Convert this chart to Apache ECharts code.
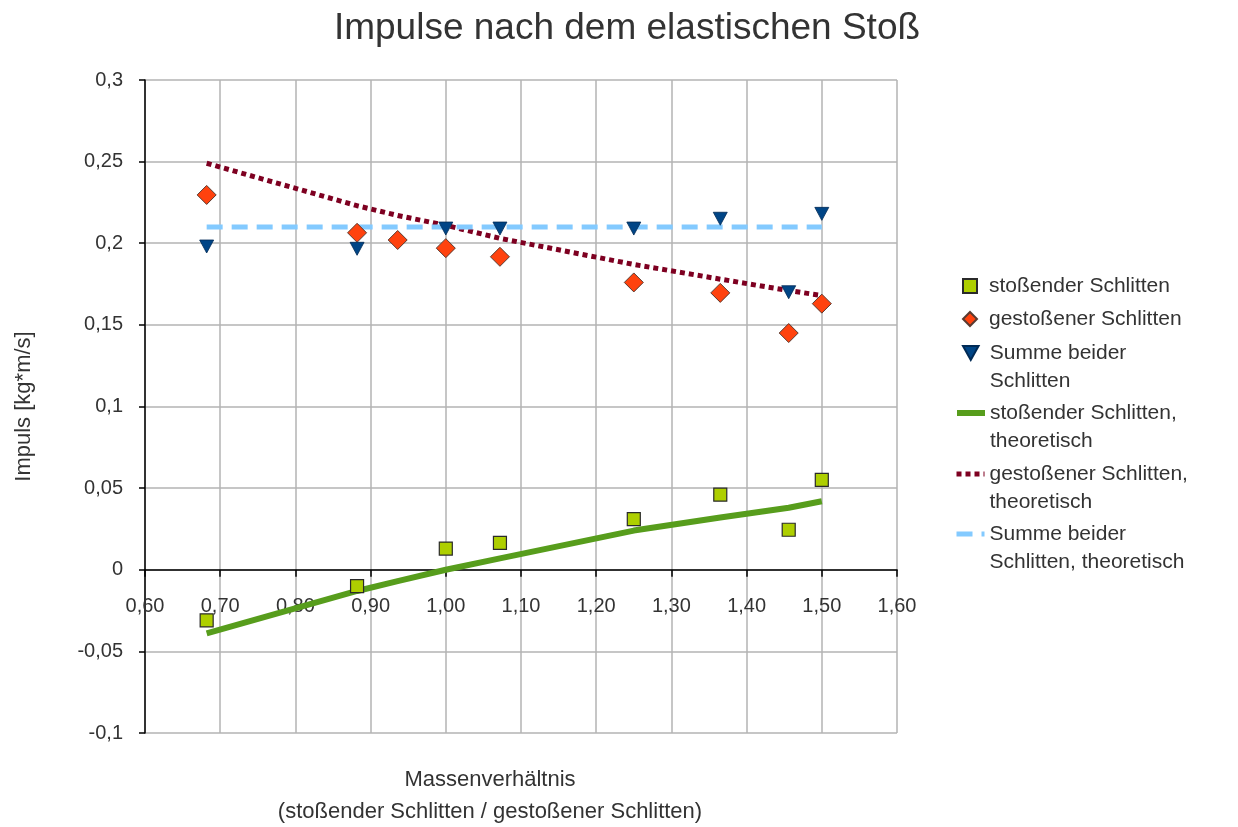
<!DOCTYPE html>
<html>
<head>
<meta charset="utf-8">
<script src="https://cdn.jsdelivr.net/npm/echarts@6/dist/echarts.min.js"></script>
<style>
  html, body { margin: 0; padding: 0; background: #fff; }
  #chart { width: 1238px; height: 827px; }
</style>
</head>
<body>
<div id="chart"></div>
<script>
// Massenverhältnis (x)
var ratio = [0.682, 0.882, 0.936, 1.0, 1.072, 1.25, 1.365, 1.456, 1.5];
// gemessene Impulse
var stossend = [-0.031, -0.010, null, 0.013, 0.0165, 0.031, 0.046, 0.0245, 0.055];
var gestossen = [0.2296, 0.2064, 0.202, 0.197, 0.1917, 0.176, 0.1696, 0.145, 0.163];
var summe = [0.198, 0.1966, null, 0.209, 0.209, 0.209, 0.215, 0.170, 0.218];
// theoretische Kurven
var theoStossend = [-0.039, -0.013, -0.007, 0.0, 0.007, 0.024, 0.032, 0.038, 0.042];
var theoGestossen = [0.249, 0.223, 0.217, 0.211, 0.203, 0.187, 0.178, 0.171, 0.168];
var theoSumme = [0.21, 0.21, 0.21, 0.21, 0.21, 0.21, 0.21, 0.21, 0.21];

var names = [
  'stoßender Schlitten',
  'gestoßener Schlitten',
  'Summe beider\nSchlitten',
  'stoßender Schlitten,\ntheoretisch',
  'gestoßener Schlitten,\ntheoretisch',
  'Summe beider\nSchlitten, theoretisch'
];

function pairs(ys) {
  var out = [];
  ratio.forEach(function (x, i) {
    if (ys[i] !== null) out.push([x, ys[i]]);
  });
  return out;
}

var font = 'Liberation Sans, Arial, sans-serif';
var txt = '#333333';

var sq = 'path://M0,0H10V10H0Z';
var dia = 'path://M5,0L10,5L5,10L0,5Z';
var tri = 'path://M0,0L10,0L5,9Z';

// one legend per entry so the icon can sit on the first text line
function leg(name, top, icon, twoLines, lw) {
  var item = { name: name };
  if (icon) item.icon = icon;
  var l = {
    left: lw ? 949 : 957, top: top, orient: 'vertical',
    itemWidth: 28, itemHeight: 14, itemGap: 0,
    textStyle: { fontFamily: font, fontSize: 21, color: txt, lineHeight: 28 },
    formatter: function (n) { return twoLines ? ' \n' + n : n; },
    data: [item]
  };
  if (lw) {
    l.lineStyle = { width: lw };
    l.itemStyle = { opacity: 0 };
  }
  return l;
}

// pixel distance of y=0 above the bottom of the plot
var zeroOffset = -(0.1 / 0.4) * (827 - 80 - 94);

var chart = echarts.init(document.getElementById('chart'));
chart.setOption({
  animation: false,
  backgroundColor: '#fff',
  title: {
    text: 'Impulse nach dem elastischen Stoß',
    left: 622, top: 5, textAlign: 'center',
    textStyle: { fontFamily: font, fontSize: 37, fontWeight: 'normal', color: txt }
  },
  legend: [
    leg(names[0], 267, sq, false),
    leg(names[1], 300, dia, false),
    leg(names[2], 306, tri, true),
    leg(names[3], 366, null, true, 6),
    leg(names[4], 427, null, true, 5),
    leg(names[5], 487, null, true, 5)
  ],
  grid: { left: 145, right: 341, top: 80, bottom: 94, outerBoundsMode: 'none', containLabel: false },
  xAxis: {
    type: 'value', min: 0.6, max: 1.6, interval: 0.1,
    offset: zeroOffset,
    name: 'Massenverhältnis\n(stoßender Schlitten / gestoßener Schlitten)',
    nameLocation: 'middle', nameGap: 194,
    nameTextStyle: { fontFamily: font, fontSize: 22, color: txt, lineHeight: 32, padding: [0, 62, 0, 0] },
    axisLine: { onZero: false, lineStyle: { color: '#000', width: 1.5 } },
    axisTick: { show: true, length: 7, lineStyle: { color: '#000', width: 1.5 } },
    axisLabel: {
      fontFamily: font, fontSize: 20, color: txt, margin: 27,
      formatter: function (v) { return v.toFixed(2).replace('.', ','); }
    },
    splitLine: { show: true, lineStyle: { color: '#b3b3b3', width: 1.5 } }
  },
  yAxis: {
    type: 'value', min: -0.1, max: 0.3, interval: 0.05,
    name: 'Impuls [kg*m/s]',
    nameLocation: 'middle', nameGap: 110,
    nameTextStyle: { fontFamily: font, fontSize: 22, color: txt },
    axisLine: { show: true, lineStyle: { color: '#000', width: 1.5 } },
    axisTick: { show: true, length: 6, lineStyle: { color: '#000', width: 1.5 } },
    axisLabel: {
      fontFamily: font, fontSize: 20, color: txt, margin: 22,
      formatter: function (v) { return String(parseFloat(v.toFixed(2))).replace('.', ','); }
    },
    splitLine: { show: true, lineStyle: { color: '#b3b3b3', width: 1.5 } }
  },
  series: [
    {
      name: names[0], type: 'scatter', z: 5,
      symbol: 'rect', symbolSize: 13,
      itemStyle: { color: '#aecf00', borderColor: '#2a2a2a', borderWidth: 1.2, opacity: 1 },
      data: pairs(stossend)
    },
    {
      name: names[1], type: 'scatter', z: 5,
      symbol: 'diamond', symbolSize: 19,
      itemStyle: { color: '#ff420e', borderColor: '#5a3a30', borderWidth: 1, opacity: 1 },
      data: pairs(gestossen)
    },
    {
      name: names[2], type: 'scatter', z: 5,
      symbol: tri, symbolSize: [14, 13],
      itemStyle: { color: '#004586', borderColor: '#002a55', borderWidth: 0.8, opacity: 1 },
      data: pairs(summe)
    },
    {
      name: names[3], type: 'line', z: 3, symbol: 'none',
      lineStyle: { color: '#579d1c', width: 6 },
      itemStyle: { color: '#579d1c' },
      data: pairs(theoStossend)
    },
    {
      name: names[4], type: 'line', z: 3, symbol: 'none',
      lineStyle: { color: '#7e0021', width: 5, type: [5, 4] },
      itemStyle: { color: '#7e0021' },
      data: pairs(theoGestossen)
    },
    {
      name: names[5], type: 'line', z: 3, symbol: 'none',
      lineStyle: { color: '#83caff', width: 5, type: [16, 9] },
      itemStyle: { color: '#83caff' },
      data: pairs(theoSumme)
    }
  ]
});
</script>
</body>
</html>
